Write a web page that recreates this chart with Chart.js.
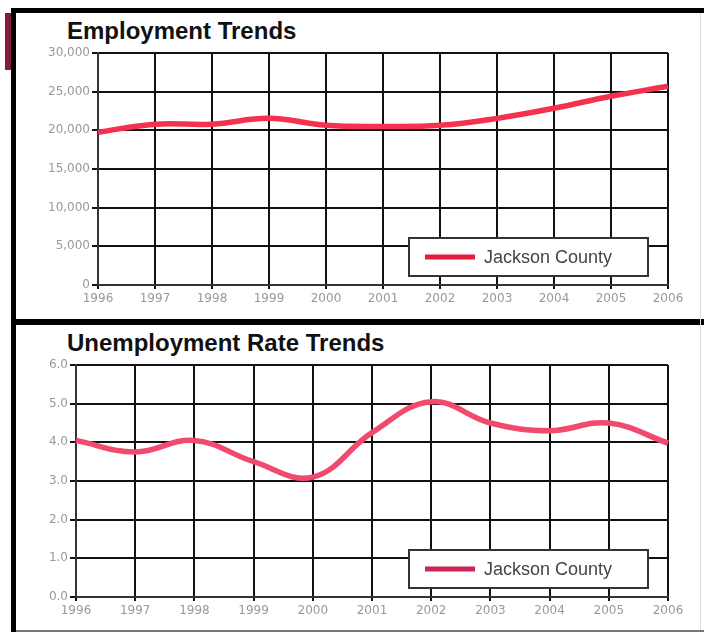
<!DOCTYPE html>
<html>
<head>
<meta charset="utf-8">
<script src="https://cdn.jsdelivr.net/npm/chart.js@4.4.1/dist/chart.umd.min.js"></script>
<style>
body { margin: 0; background: #fff; width: 704px; height: 633px; overflow: hidden; position: relative; font-family: "Liberation Sans", Arial, sans-serif; }
.bar { position: absolute; background: #000; }
.title { position: absolute; left: 67px; font-weight: bold; font-size: 24px; color: #111; line-height: 24px; }
canvas { position: absolute; }
</style>
</head>
<body>
<div class="bar" style="left:11px;top:8px;width:693px;height:5px"></div>
<div class="bar" style="left:11px;top:8px;width:5px;height:624px"></div>
<div class="bar" style="left:11px;top:319px;width:693px;height:6px"></div>
<div class="bar" style="left:16px;top:630px;width:688px;height:2px;background:#777"></div>
<div class="bar" style="left:5px;top:13px;width:6px;height:57px;background:#861a3a"></div>
<div class="bar" style="left:700px;top:13px;width:1px;height:617px;background:#ddd"></div>

<div class="title" style="top:19px">Employment Trends</div>
<div class="title" style="top:331px">Unemployment Rate Trends</div>

<canvas id="empChart" style="left:16px;top:40px" width="688" height="278"></canvas>
<canvas id="rateChart" style="left:16px;top:352px" width="688" height="278"></canvas>

<script>
var years = ["1996", "1997", "1998", "1999", "2000", "2001", "2002", "2003", "2004", "2005", "2006"];
var employment = [19750, 20800, 20800, 21550, 20650, 20500, 20650, 21550, 22850, 24400, 25700];
var unemploymentRate = [4.05, 3.75, 4.05, 3.5, 3.1, 4.25, 5.05, 4.5, 4.3, 4.5, 3.98];
var seriesName = "Jackson County";

// legend box drawn inside the plot, bottom right
var boxLegend = {
    id: 'boxLegend',
    afterDraw: function(chart){
        var ctx = chart.ctx;
        var a = chart.chartArea;
        var ds = chart.data.datasets[0];
        var w = 239, h = 38;
        var x = a.right - 20 - w;
        var y = a.bottom - 9 - h;
        ctx.save();
        ctx.fillStyle = '#fff';
        ctx.fillRect(x, y, w, h);
        ctx.strokeStyle = '#333';
        ctx.lineWidth = 2;
        ctx.strokeRect(x, y, w, h);
        ctx.strokeStyle = ds.legendColor;
        ctx.lineWidth = 5;
        ctx.beginPath();
        ctx.moveTo(x + 16, y + h / 2);
        ctx.lineTo(x + 66, y + h / 2);
        ctx.stroke();
        ctx.fillStyle = '#444';
        ctx.font = '18px "Liberation Sans", Arial, sans-serif';
        ctx.textBaseline = 'middle';
        ctx.fillText(ds.label, x + 75, y + h / 2 + 1);
        ctx.restore();
    }
};

function makeChart(id, values, color, legendColor, yMax, yStep, yWidth, fmt){
    var config = {
        type: 'line',
        data: {
            labels: years,
            datasets: [{
                label: seriesName,
                data: values,
                borderColor: color,
                legendColor: legendColor,
                borderWidth: 5.5,
                pointRadius: 0,
                tension: 0.4,
                fill: false
            }]
        },
        options: {
            responsive: false,
            animation: false,
            layout: { padding: { left: 0, top: 13, right: 36, bottom: 13 } },
            plugins: { legend: { display: false }, tooltip: { enabled: false } },
            scales: {
                x: {
                    afterFit: function(s){ s.height = 20; },
                    grid: { color: '#111', lineWidth: 2, tickLength: 4 },
                    border: { color: '#333', width: 2 },
                    ticks: { color: '#999', padding: 3, maxRotation: 0, autoSkip: false,
                        font: { family: 'DejaVu Sans', size: 12 } }
                },
                y: {
                    min: 0,
                    max: yMax,
                    afterFit: function(s){ s.width = yWidth; },
                    grid: { color: '#111', lineWidth: 2, tickLength: 6 },
                    border: { color: '#333', width: 2 },
                    ticks: { stepSize: yStep, color: '#999', padding: 2,
                        font: { family: 'DejaVu Sans', size: 12 },
                        callback: fmt }
                }
            }
        },
        plugins: [boxLegend]
    };
    return new Chart(document.getElementById(id), config);
}

var empChart = makeChart('empChart', employment, 'rgb(244,50,80)', 'rgb(225,30,60)', 30000, 5000, 82,
    function(v){ return v.toLocaleString('en-US'); });
var rateChart = makeChart('rateChart', unemploymentRate, 'rgb(240,75,110)', 'rgb(200,40,85)', 6, 1, 60,
    function(v){ return v.toFixed(1); });
</script>
</body>
</html>
